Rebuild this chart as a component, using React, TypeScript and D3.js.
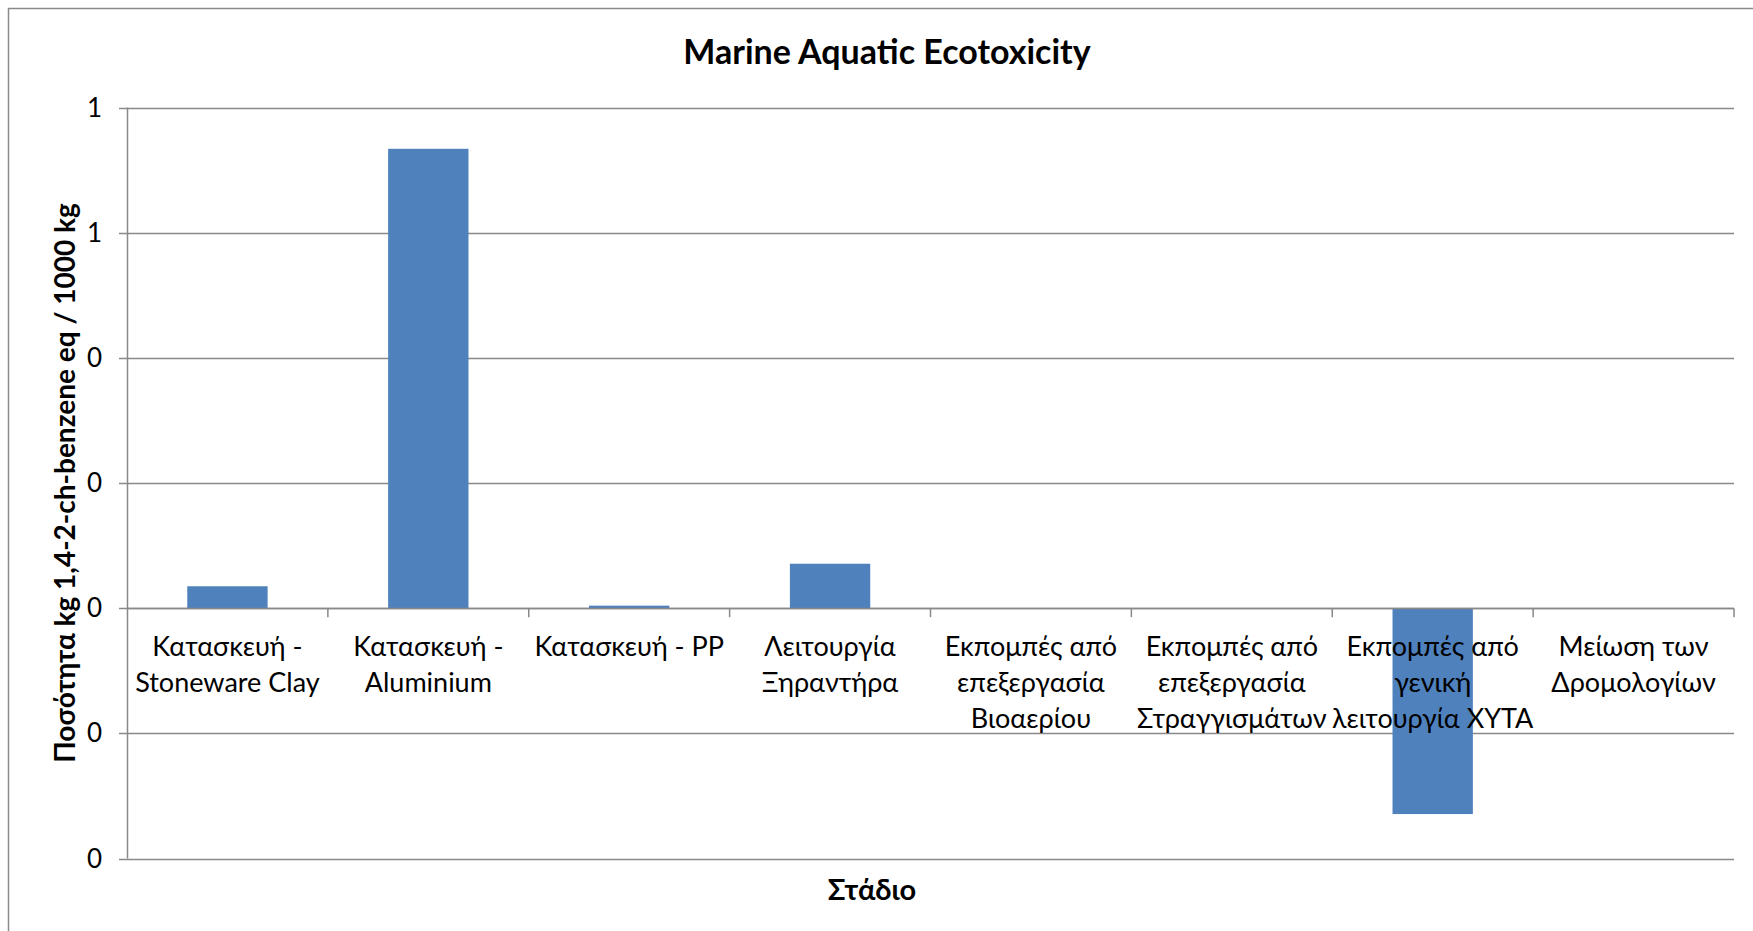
import React from "react";
import * as d3 from "d3";

// Stage names (line breaks as drawn under the axis)
const categories: string[] = [
  "Κατασκευή -\nStoneware Clay",
  "Κατασκευή -\nAluminium",
  "Κατασκευή - PP",
  "Λειτουργία\nΞηραντήρα",
  "Εκπομπές από\nεπεξεργασία\nΒιοαερίου",
  "Εκπομπές από\nεπεξεργασία\nΣτραγγισμάτων",
  "Εκπομπές από\nγενική\nλειτουργία ΧΥΤΑ",
  "Μείωση των\nΔρομολογίων",
];

// kg 1,4-DCB eq per 1000 kg
const values: number[] = [0.035, 0.734, 0.004, 0.071, 0, 0, -0.329, 0];

const yTicks: number[] = [-0.4, -0.2, 0, 0.2, 0.4, 0.6, 0.8];
const yTickLabels: string[] = ["0", "0", "0", "0", "0", "1", "1"];

const title = "Marine Aquatic Ecotoxicity";
const yTitle = "Ποσότητα kg 1,4-2-ch-benzene eq / 1000 kg";
const xTitle = "Στάδιο";

const W = 1753;
const H = 931;
const FONT = "Lato, 'Open Sans', 'Noto Sans', sans-serif";

export default function App() {
  const left = 127;
  const right = 1734;
  const top = 107.5;
  const bottom = 858.5;

  const y = d3.scaleLinear().domain([-0.4, 0.8]).range([bottom, top]);
  const xBand = d3
    .scaleBand<string>()
    .domain(categories)
    .range([left, right])
    .paddingInner(0.6)
    .paddingOuter(0.3);
  const xCat = d3.scaleBand<string>().domain(categories).range([left, right]);

  const gridColor = "#898989";
  const zeroY = y(0);

  return (
    <svg
      width={W}
      height={H}
      style={{ position: "absolute", left: 0, top: 0, background: "#fff" }}
      fontFamily={FONT}
    >
      <rect x={0} y={0} width={W} height={H} fill="#fff" />
      {/* chart frame */}
      <rect x={8.5} y={8.5} width={W + 10} height={H + 10} fill="none" stroke="#8a8a8a" strokeWidth={1.5} />

      <text x={887} y={64} textAnchor="middle" fontSize={34} fontWeight="bold" fill="#000">
        {title}
      </text>

      {/* horizontal gridlines and y ticks */}
      {yTicks.map((t, i) => (
        <g key={"g" + i}>
          <line x1={left - 8} x2={right} y1={Math.round(y(t)) + 0.5} y2={Math.round(y(t)) + 0.5} stroke={gridColor} strokeWidth={1.5} />
          <text x={102} y={y(t)} dy="0.35em" textAnchor="end" fontSize={26} fill="#000">
            {yTickLabels[i]}
          </text>
        </g>
      ))}

      {/* y axis line */}
      <line x1={left + 0.5} x2={left + 0.5} y1={top} y2={bottom} stroke={gridColor} strokeWidth={1.5} />

      {/* bars */}
      {categories.map((c, i) => {
        const v = values[i];
        if (v === 0) return null;
        const y0 = y(Math.max(0, v));
        const y1 = y(Math.min(0, v));
        return (
          <rect key={"b" + i} x={xBand(c)} y={y0} width={xBand.bandwidth()} height={y1 - y0} fill="#4F81BD" />
        );
      })}

      {/* category axis at zero */}
      <line x1={left} x2={right} y1={Math.round(zeroY) + 0.5} y2={Math.round(zeroY) + 0.5} stroke={gridColor} strokeWidth={1.5} />
      {categories.map((c, i) => (
        <line
          key={"t" + i}
          x1={(xCat(c) as number) + xCat.bandwidth()}
          x2={(xCat(c) as number) + xCat.bandwidth()}
          y1={zeroY}
          y2={zeroY + 9}
          stroke={gridColor}
          strokeWidth={1.5}
        />
      ))}

      {/* category labels */}
      {categories.map((c, i) => {
        const cx = (xCat(c) as number) + xCat.bandwidth() / 2;
        return (
          <text key={"l" + i} x={cx} y={zeroY + 48} textAnchor="middle" fontSize={27} fill="#000">
            {c.split("\n").map((line, j) => (
              <tspan key={j} x={cx} dy={j === 0 ? 0 : 35.7}>
                {line}
              </tspan>
            ))}
          </text>
        );
      })}

      {/* axis titles */}
      <text
        transform={`translate(75, ${(top + bottom) / 2}) rotate(-90)`}
        textAnchor="middle"
        fontSize={28}
        fontWeight="bold"
        fill="#000"
      >
        {yTitle}
      </text>
      <text x={872} y={900} textAnchor="middle" fontSize={29} fontWeight="bold" fill="#000">
        {xTitle}
      </text>
    </svg>
  );
}
